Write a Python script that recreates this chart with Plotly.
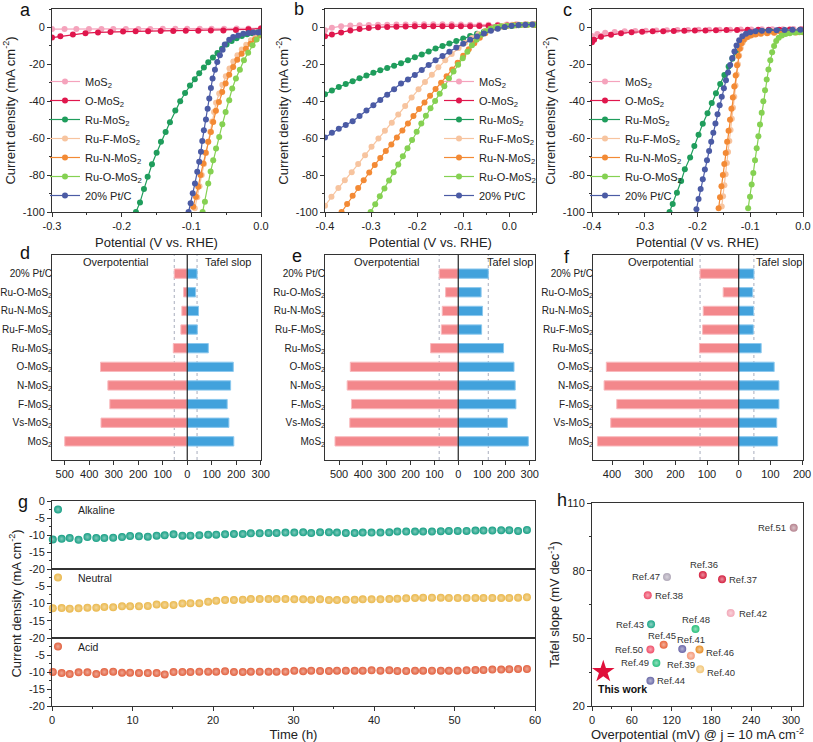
import plotly.graph_objects as go

FONT = "Liberation Sans, Arial, Helvetica, sans-serif"
W, H = 813, 742

# ---------------- Panel a (LSV) ----------------
A_MOS2_V = [-0.300,-0.282,-0.265,-0.247,-0.229,-0.212,-0.194,-0.176,-0.159,-0.141,-0.123,-0.106,-0.088,-0.071,-0.053,-0.035,-0.018,0.000]
A_MOS2_J = [-0.9,-0.9,-0.8,-0.8,-0.8,-0.8,-0.8,-0.8,-0.8,-0.7,-0.7,-0.7,-0.7,-0.7,-0.7,-0.6,-0.5,-0.4]
A_OMOS2_V = [-0.300,-0.288,-0.270,-0.252,-0.234,-0.216,-0.198,-0.180,-0.162,-0.144,-0.126,-0.108,-0.090,-0.072,-0.054,-0.036,-0.018,0.000]
A_OMOS2_J = [-5.5,-4.8,-3.8,-3.1,-2.7,-2.4,-2.2,-2.1,-2.0,-1.9,-1.9,-1.8,-1.8,-1.7,-1.6,-1.4,-1.0,-0.6]
A_RU_V = [-0.1795,-0.1737,-0.1680,-0.1627,-0.1565,-0.1498,-0.1436,-0.1369,-0.1307,-0.1230,-0.1160,-0.1090,-0.1020,-0.0950,-0.0887,-0.0820,-0.0757,-0.0690,-0.0625,-0.0560,-0.0494,-0.0422,-0.0350,-0.0275,-0.0200,-0.0125,-0.0050,0.0000]
A_RU_J = [-100.0,-94.8,-87.6,-80.9,-74.1,-67.9,-62.0,-56.6,-51.4,-45.0,-40.0,-35.5,-31.5,-28.0,-24.8,-21.7,-18.9,-16.3,-13.9,-11.6,-9.3,-7.4,-5.8,-4.6,-3.7,-3.1,-2.7,-2.6]
A_RUF_V = [-0.0950,-0.0915,-0.0882,-0.0850,-0.0818,-0.0788,-0.0758,-0.0730,-0.0702,-0.0674,-0.0645,-0.0600,-0.0555,-0.0505,-0.0452,-0.0397,-0.0338,-0.0276,-0.0212,-0.0145,-0.0075,0.0000]
A_RUF_J = [-98.0,-92.0,-86.0,-80.0,-74.0,-68.0,-62.0,-56.5,-51.0,-45.8,-40.8,-35.8,-31.0,-26.4,-22.2,-18.4,-15.0,-12.0,-9.4,-7.0,-5.0,-3.2]
A_RUN_V = [-0.0973,-0.0934,-0.0901,-0.0868,-0.0829,-0.0795,-0.0757,-0.0719,-0.0686,-0.0647,-0.0604,-0.0557,-0.0508,-0.0456,-0.0399,-0.0341,-0.0278,-0.0217,-0.0150,-0.0088,-0.0016]
A_RUN_J = [-97.1,-91.7,-86.3,-80.0,-73.7,-67.9,-62.0,-56.6,-51.2,-45.2,-40.4,-35.0,-30.4,-25.6,-21.4,-17.5,-14.2,-11.5,-8.8,-6.5,-4.3]
A_RUO_V = [-0.0838,-0.0805,-0.0757,-0.0723,-0.0686,-0.0645,-0.0600,-0.0555,-0.0508,-0.0456,-0.0413,-0.0360,-0.0303,-0.0245,-0.0184,-0.0121,-0.0063,-0.0006]
A_RUO_J = [-100.0,-94.4,-84.5,-78.0,-71.9,-65.6,-59.3,-52.5,-45.8,-39.5,-33.1,-27.7,-22.9,-17.8,-13.7,-9.7,-6.5,-3.8]
A_PT_V = [-0.1040,-0.1010,-0.0980,-0.0948,-0.0915,-0.0887,-0.0862,-0.0843,-0.0820,-0.0790,-0.0766,-0.0743,-0.0719,-0.0695,-0.0661,-0.0628,-0.0590,-0.0551,-0.0520,-0.0456,-0.0399,-0.0327,-0.0255,-0.0180,-0.0110,-0.0040,0.0000]
A_PT_J = [-100.0,-95.3,-89.9,-84.5,-78.2,-72.8,-67.4,-61.5,-55.7,-49.9,-44.0,-38.5,-32.8,-27.7,-22.9,-18.7,-15.1,-12.1,-9.2,-6.7,-5.2,-4.3,-3.4,-3.0,-2.8,-2.7,-2.6]

# ---------------- Panel b (LSV) ----------------
B_MOS2_V = [-0.400,-0.385,-0.365,-0.345,-0.325,-0.305,-0.285,-0.265,-0.245,-0.225,-0.205,-0.185,-0.165,-0.145,-0.125,-0.105,-0.085,-0.065,-0.045,-0.025,-0.005,0.015,0.035,0.055]
B_MOS2_J = [-1.5,-0.2,0.7,1.0,1.2,1.3,1.4,1.5,1.6,1.6,1.7,1.7,1.7,1.7,1.7,1.6,1.5,1.4,1.4,1.5,1.6,1.7,1.8,1.9]
B_OMOS2_V = [-0.400,-0.385,-0.365,-0.345,-0.325,-0.305,-0.285,-0.265,-0.245,-0.225,-0.205,-0.185,-0.165,-0.145,-0.125,-0.105,-0.085,-0.065,-0.045,-0.025,-0.005,0.015,0.035,0.055]
B_OMOS2_J = [-4.8,-3.8,-2.7,-1.6,-0.9,-0.3,0.1,0.3,0.4,0.5,0.6,0.6,0.7,0.7,0.7,0.7,0.7,0.8,0.9,1.0,1.1,1.2,1.3,1.3]
B_RU_V = [-0.400,-0.385,-0.370,-0.355,-0.340,-0.325,-0.310,-0.295,-0.280,-0.265,-0.250,-0.235,-0.220,-0.205,-0.190,-0.175,-0.160,-0.145,-0.130,-0.115,-0.100,-0.085,-0.070,-0.055,-0.040,-0.025,-0.010,0.005,0.020,0.035,0.050]
B_RU_J = [-36.2,-34.1,-32.3,-30.7,-29.2,-27.5,-26.0,-24.5,-23.2,-22.0,-20.8,-19.4,-17.8,-16.1,-14.6,-13.0,-11.4,-10.1,-8.7,-7.3,-6.0,-4.6,-3.4,-2.3,-1.3,-0.4,0.3,0.8,1.2,1.4,1.6]
B_RUF_V = [-0.400,-0.386,-0.371,-0.357,-0.342,-0.328,-0.313,-0.299,-0.284,-0.270,-0.255,-0.241,-0.226,-0.212,-0.197,-0.183,-0.168,-0.154,-0.139,-0.125,-0.110,-0.096,-0.081,-0.067,-0.052,-0.038,-0.023,-0.009,0.006,0.020,0.035,0.049]
B_RUF_J = [-96.6,-91.8,-87.0,-82.8,-78.4,-74.0,-69.2,-64.6,-60.2,-56.0,-51.6,-47.2,-42.6,-38.0,-33.5,-29.5,-25.6,-21.6,-17.8,-14.4,-11.2,-8.3,-5.7,-3.6,-1.8,-0.5,0.4,1.0,1.4,1.6,1.7,1.8]
B_RUN_V = [-0.364,-0.352,-0.340,-0.328,-0.316,-0.304,-0.292,-0.280,-0.268,-0.256,-0.244,-0.232,-0.220,-0.208,-0.196,-0.184,-0.172,-0.160,-0.148,-0.136,-0.124,-0.112,-0.100,-0.088,-0.076,-0.064,-0.052,-0.040,-0.028,-0.016,-0.004,0.010,0.025,0.040,0.055]
B_RUN_J = [-100.0,-95.6,-91.2,-87.0,-82.8,-78.6,-74.5,-70.7,-67.0,-63.4,-59.6,-55.8,-52.0,-48.0,-44.2,-40.6,-37.0,-33.4,-29.9,-26.4,-22.8,-19.1,-15.4,-11.8,-8.5,-5.6,-3.2,-1.4,-0.2,0.5,0.9,1.2,1.3,1.4,1.4]
B_RUO_V = [-0.301,-0.291,-0.281,-0.271,-0.261,-0.251,-0.241,-0.231,-0.221,-0.211,-0.201,-0.191,-0.181,-0.171,-0.161,-0.151,-0.141,-0.131,-0.121,-0.111,-0.101,-0.091,-0.081,-0.071,-0.061,-0.051,-0.041,-0.030,-0.018,-0.005,0.010,0.025,0.040,0.055]
B_RUO_J = [-100.0,-95.8,-91.5,-87.2,-82.9,-78.5,-74.2,-69.8,-65.4,-61.0,-56.5,-52.0,-47.8,-43.8,-39.8,-35.9,-31.8,-27.6,-23.8,-20.2,-16.7,-13.2,-9.7,-6.6,-4.0,-2.1,-0.7,0.2,0.6,0.9,1.1,1.3,1.4,1.4]
B_PT_V = [-0.400,-0.385,-0.370,-0.355,-0.340,-0.325,-0.310,-0.295,-0.280,-0.265,-0.250,-0.235,-0.220,-0.205,-0.190,-0.175,-0.160,-0.145,-0.130,-0.115,-0.100,-0.085,-0.070,-0.055,-0.040,-0.025,-0.010,0.005,0.020,0.035,0.050]
B_PT_J = [-59.6,-57.0,-54.9,-52.9,-50.8,-48.0,-45.0,-42.1,-39.3,-36.4,-33.5,-30.4,-28.2,-25.8,-23.1,-20.3,-17.8,-15.5,-13.1,-10.9,-8.8,-6.7,-4.9,-3.3,-1.8,-0.7,0.2,0.9,1.3,1.5,1.6]

# ---------------- Panel c (LSV) ----------------
C_MOS2_V = [-0.400,-0.390,-0.375,-0.357,-0.338,-0.318,-0.298,-0.278,-0.258,-0.238,-0.218,-0.198,-0.178,-0.158,-0.138,-0.118,-0.098,-0.078,-0.058,-0.038,-0.018,0.000]
C_MOS2_J = [-4.6,-3.6,-2.9,-2.4,-2.1,-1.9,-1.8,-1.6,-1.5,-1.4,-1.4,-1.3,-1.3,-1.2,-1.2,-1.1,-1.1,-1.0,-1.0,-1.0,-0.9,-0.9]
C_OMOS2_V = [-0.400,-0.396,-0.383,-0.364,-0.345,-0.325,-0.305,-0.285,-0.265,-0.245,-0.225,-0.205,-0.185,-0.165,-0.145,-0.125,-0.105,-0.085,-0.065,-0.045,-0.025,-0.005]
C_OMOS2_J = [-8.0,-6.6,-5.0,-4.0,-3.2,-2.6,-2.3,-2.1,-2.0,-1.9,-1.8,-1.7,-1.6,-1.5,-1.4,-1.4,-1.3,-1.3,-1.2,-1.2,-1.1,-1.1]
C_RU_V = [-0.2530,-0.2470,-0.2390,-0.2310,-0.2240,-0.2140,-0.2060,-0.1980,-0.1900,-0.1810,-0.1730,-0.1650,-0.1570,-0.1490,-0.1410,-0.1340,-0.1270,-0.1200,-0.1130,-0.1050,-0.0960,-0.0860,-0.0750,-0.0620,-0.0480,-0.0340,-0.0200,-0.0060]
C_RU_J = [-100.0,-95.7,-89.6,-83.2,-76.9,-70.5,-64.3,-58.2,-52.2,-46.5,-41.0,-35.7,-30.6,-25.8,-21.2,-17.0,-13.2,-9.8,-7.0,-5.0,-3.6,-2.8,-2.3,-2.0,-1.8,-1.7,-1.6,-1.5]
C_RUF_V = [-0.1540,-0.1515,-0.1490,-0.1467,-0.1443,-0.1420,-0.1397,-0.1373,-0.1350,-0.1327,-0.1303,-0.1280,-0.1257,-0.1234,-0.1210,-0.1180,-0.1145,-0.1100,-0.1040,-0.0970,-0.0880,-0.0780,-0.0660,-0.0530,-0.0390,-0.0250,-0.0110,0.0000]
C_RUF_J = [-97.0,-91.5,-85.5,-79.5,-73.5,-67.5,-61.5,-55.5,-49.5,-43.5,-37.5,-31.5,-25.5,-20.0,-15.2,-11.2,-8.3,-6.3,-5.0,-4.2,-3.6,-3.2,-2.9,-2.7,-2.6,-2.5,-2.5,-2.4]
C_RUN_V = [-0.1600,-0.1573,-0.1546,-0.1519,-0.1492,-0.1465,-0.1438,-0.1411,-0.1384,-0.1357,-0.1330,-0.1303,-0.1276,-0.1250,-0.1225,-0.1198,-0.1165,-0.1120,-0.1060,-0.0990,-0.0900,-0.0800,-0.0680,-0.0550,-0.0410,-0.0270,-0.0130,0.0000]
C_RUN_J = [-98.0,-92.0,-86.0,-80.0,-74.0,-68.0,-62.0,-56.0,-50.0,-44.0,-38.0,-32.0,-26.0,-20.5,-15.5,-11.5,-8.5,-6.5,-5.2,-4.4,-3.8,-3.4,-3.1,-2.9,-2.8,-2.7,-2.7,-2.6]
C_RUO_V = [-0.1040,-0.1005,-0.0973,-0.0942,-0.0910,-0.0878,-0.0846,-0.0815,-0.0783,-0.0752,-0.0720,-0.0688,-0.0655,-0.0620,-0.0585,-0.0548,-0.0508,-0.0460,-0.0400,-0.0330,-0.0250,-0.0160,-0.0070,0.0000]
C_RUO_J = [-98.0,-91.7,-85.1,-78.8,-72.0,-65.5,-59.0,-52.6,-46.2,-40.0,-34.0,-28.2,-22.8,-17.8,-13.5,-10.0,-7.4,-5.6,-4.4,-3.6,-3.1,-2.8,-2.6,-2.5]
C_PT_V = [-0.202,-0.198,-0.194,-0.190,-0.186,-0.182,-0.178,-0.174,-0.170,-0.166,-0.162,-0.158,-0.154,-0.150,-0.146,-0.142,-0.138,-0.134,-0.130,-0.126,-0.121,-0.115,-0.108,-0.100,-0.090,-0.078,-0.065,-0.050,-0.035,-0.020,-0.005]
C_PT_J = [-98.5,-93.0,-87.5,-82.2,-77.0,-72.0,-67.0,-62.0,-57.0,-52.0,-47.0,-42.2,-37.5,-33.0,-28.6,-24.4,-20.3,-16.5,-13.0,-9.8,-7.0,-4.8,-3.4,-2.6,-2.1,-1.8,-1.6,-1.5,-1.4,-1.3,-1.3]

SERIES_NAMES = ["MoS<sub>2</sub>", "O-MoS<sub>2</sub>", "Ru-MoS<sub>2</sub>", "Ru-F-MoS<sub>2</sub>",
                "Ru-N-MoS<sub>2</sub>", "Ru-O-MoS<sub>2</sub>", "20% Pt/C"]
SERIES_COLORS = ["#f5a3bc", "#e0174d", "#1f9d5c", "#f7c49f", "#f38a35", "#85d152", "#4b5ba5"]

# ---------------- Panels d, e, f (bars) ----------------
CATS = ["MoS<sub>2</sub>", "Vs-MoS<sub>2</sub>", "F-MoS<sub>2</sub>", "N-MoS<sub>2</sub>", "O-MoS<sub>2</sub>",
        "Ru-MoS<sub>2</sub>", "Ru-F-MoS<sub>2</sub>", "Ru-N-MoS<sub>2</sub>", "Ru-O-MoS<sub>2</sub>", "20% Pt/C"]
D_OVER = [500, 352, 316, 324, 354, 57, 26, 22, 15, 53]
D_TAFEL = [190, 170, 163, 177, 188, 86, 41, 46, 34, 40]
E_OVER = [517, 455, 448, 466, 453, 116, 71, 67, 53, 80]
E_TAFEL = [294, 206, 242, 239, 234, 190, 98, 102, 96, 126]
F_OVER = [446, 404, 385, 425, 418, 124, 114, 112, 49, 122]
F_TAFEL = [123, 120, 127, 127, 112, 71, 46, 47, 44, 48]

# ---------------- Panel g (stability) ----------------
G_TIME = [0.1,1.2,2.2,3.3,4.4,5.5,6.5,7.6,8.7,9.7,10.8,11.9,13.0,14.0,15.1,16.2,17.2,18.3,19.4,20.4,
          21.5,22.6,23.7,24.7,25.8,26.9,27.9,29.0,30.1,31.2,32.2,33.3,34.4,35.4,36.5,37.6,38.6,39.7,40.8,41.9,
          42.9,44.0,45.1,46.1,47.2,48.3,49.3,50.4,51.5,52.6,53.6,54.7,55.8,56.8,57.9,59.0]
G_ALKALINE = [-11.3,-11.1,-10.9,-11.4,-10.6,-10.9,-10.9,-10.8,-10.6,-10.3,-10.4,-10.5,-10.2,-10.1,-9.8,-10.2,-10.2,-10.1,-9.9,-9.9,
              -9.8,-9.7,-9.7,-9.5,-9.5,-9.4,-9.4,-9.3,-9.3,-9.2,-9.4,-9.2,-9.2,-9.3,-9.4,-9.4,-9.3,-9.3,-9.3,-9.2,
              -9.0,-9.0,-9.0,-9.0,-9.0,-8.9,-8.8,-8.8,-8.8,-8.7,-8.7,-8.7,-8.6,-8.6,-8.8,-8.5]
G_NEUTRAL = [-11.4,-11.3,-11.5,-11.4,-11.2,-11.2,-11.0,-11.1,-10.8,-10.8,-10.8,-10.7,-10.3,-10.4,-10.4,-10.0,-9.9,-9.9,-9.5,-9.2,
             -9.0,-9.0,-8.9,-8.7,-8.7,-8.7,-8.7,-8.7,-8.8,-8.8,-8.9,-8.8,-9.0,-9.0,-8.9,-8.9,-8.8,-8.8,-8.8,-8.7,
             -8.6,-8.5,-8.4,-8.3,-8.3,-8.3,-8.4,-8.4,-8.4,-8.4,-8.4,-8.4,-8.4,-8.4,-8.3,-8.2]
G_ACID = [-10.0,-10.3,-10.6,-10.1,-10.1,-10.6,-10.0,-9.9,-10.2,-10.2,-10.3,-10.3,-10.3,-10.7,-10.0,-10.0,-10.0,-9.9,-9.9,-9.9,
          -9.8,-10.0,-10.0,-9.9,-9.9,-9.9,-9.9,-9.9,-9.6,-9.8,-9.6,-9.7,-9.7,-9.6,-9.6,-9.6,-9.6,-9.5,-9.6,-9.5,
          -9.7,-9.7,-9.6,-9.6,-9.6,-9.6,-9.6,-9.6,-9.5,-9.4,-9.4,-9.3,-9.3,-9.2,-9.1,-9.1]

# ---------------- Panel h (comparison) ----------------
H_REFS = ["Ref.51", "Ref.36", "Ref.37", "Ref.47", "Ref.38", "Ref.42", "Ref.43", "Ref.48",
          "Ref.45", "Ref.50", "Ref.41", "Ref.46", "Ref.39", "Ref.49", "Ref.40", "Ref.44"]
H_OVERPOT = [304, 167, 196, 113, 84, 209, 89, 156, 108, 88, 136, 162, 149, 97, 163, 88]
H_TAFEL = [99.0, 78.1, 76.2, 77.2, 69.1, 61.2, 56.2, 54.1, 47.2, 45.1, 45.3, 45.1, 42.3, 39.1, 36.3, 31.2]
H_COLORS = ["#b5838f", "#d6203f", "#d42040", "#b0a8b8", "#ee4d6a", "#f2a8b8", "#1fa88a", "#28c07a",
            "#e8643a", "#f0506a", "#6a66a8", "#e8902a", "#f59a7a", "#2ac080", "#f2c77a", "#6a6aa8"]
# label placement (anchor, x shift px, y shift px) per point
H_LABEL_STYLE = [("right", -6, 0), ("center", 1, 10), ("left", 5, 0), ("right", -5, 0),
                 ("left", 5, 0), ("left", 6, 0), ("right", -5, 0), ("center", 0, 10),
                 ("center", -2, 9), ("right", -5, 0), ("center", 9, 9), ("left", 5, -3),
                 ("center", -10, -9), ("right", -5, 0), ("left", 5, -3), ("left", 5, 0)]
THIS_WORK_OVERPOT = [17]
THIS_WORK_TAFEL = [35.2]


def xd(a, b):
    return [a / W, b / W]


def yd(top, bottom):
    return [1 - bottom / H, 1 - top / H]


def px(x):
    return x / W


def py(y):
    return 1 - y / H


def lighten(hexc, f):
    hexc = hexc.lstrip("#")
    r, g, b = int(hexc[0:2], 16), int(hexc[2:4], 16), int(hexc[4:6], 16)
    r = int(r + (255 - r) * f)
    g = int(g + (255 - g) * f)
    b = int(b + (255 - b) * f)
    return f"rgb({r},{g},{b})"


def axis(**kw):
    d = dict(showline=True, linecolor="#333333", linewidth=1, mirror=True, automargin=False,
             ticks="outside", ticklen=4, tickwidth=1, tickcolor="#333333",
             tickfont=dict(family=FONT, size=11, color="#222222"),
             showgrid=False, zeroline=False, fixedrange=True)
    d.update(kw)
    return d


TITLE_FONT = dict(family=FONT, size=13, color="#222222")

fig = go.Figure()
layout = {}

# ---- LSV panels ----
panels = [
    ("", "legend", [(A_MOS2_V, A_MOS2_J), (A_OMOS2_V, A_OMOS2_J), (A_RU_V, A_RU_J), (A_RUF_V, A_RUF_J),
                    (A_RUN_V, A_RUN_J), (A_RUO_V, A_RUO_J), (A_PT_V, A_PT_J)]),
    ("2", "legend2", [(B_MOS2_V, B_MOS2_J), (B_OMOS2_V, B_OMOS2_J), (B_RU_V, B_RU_J), (B_RUF_V, B_RUF_J),
                      (B_RUN_V, B_RUN_J), (B_RUO_V, B_RUO_J), (B_PT_V, B_PT_J)]),
    ("3", "legend3", [(C_MOS2_V, C_MOS2_J), (C_OMOS2_V, C_OMOS2_J), (C_RU_V, C_RU_J), (C_RUF_V, C_RUF_J),
                      (C_RUN_V, C_RUN_J), (C_RUO_V, C_RUO_J), (C_PT_V, C_PT_J)]),
]
for s, lg, data in panels:
    for (v, j), name, col in zip(data, SERIES_NAMES, SERIES_COLORS):
        fig.add_trace(go.Scatter(
            x=v, y=j, mode="lines+markers", name=name, legend=lg,
            line=dict(color=col, width=1.2), marker=dict(size=6, color=col),
            xaxis="x" + s, yaxis="y" + s))

lsv_xdom = [xd(52, 261), xd(325, 536), xd(592, 803)]
lsv_xrange = [[-0.3, 0.0], [-0.4, 0.058], [-0.4, 0.0]]
lsv_ticks = [[-0.3, -0.2, -0.1, 0.0], [-0.4, -0.3, -0.2, -0.1, 0.0], [-0.4, -0.3, -0.2, -0.1, 0.0]]
for k, s in enumerate(["", "2", "3"]):
    tv = lsv_ticks[k]
    layout["xaxis" + s] = axis(domain=lsv_xdom[k], anchor="y" + s, range=lsv_xrange[k],
                               tickmode="array", tickvals=tv, ticktext=[f"{t:.1f}".replace("-0.0", "0.0") for t in tv],
                               minor=dict(tickmode="linear", tick0=0, dtick=0.05, ticks="outside", ticklen=2, tickcolor="#333"),
                               title=dict(text="Potential (V vs. RHE)", font=TITLE_FONT, standoff=6))
    layout["yaxis" + s] = axis(domain=yd(9, 212), anchor="x" + s, range=[-100, 10],
                               tickmode="array", tickvals=[0, -20, -40, -60, -80, -100],
                               ticktext=["0", "-20", "-40", "-60", "-80", "-100"],
                               minor=dict(tickmode="linear", tick0=0, dtick=10, ticks="outside", ticklen=2, tickcolor="#333"),
                               title=dict(text="Current density (mA cm<sup>-2</sup>)", font=TITLE_FONT, standoff=4))

legend_common = dict(bgcolor="rgba(0,0,0,0)", font=dict(family=FONT, size=11, color="#222"),
                     itemwidth=30, tracegroupgap=0, yanchor="bottom", y=py(210))
layout["legend"] = dict(legend_common, x=px(45), xanchor="left")
layout["legend2"] = dict(legend_common, x=px(541), xanchor="right")
layout["legend3"] = dict(legend_common, x=px(585), xanchor="left")

# ---- Bar panels ----
bar_sets = [("4", D_OVER, D_TAFEL, [-552, 301], list(range(-500, 301, 100)), xd(52, 261)),
            ("5", E_OVER, E_TAFEL, [-559, 322], list(range(-500, 301, 100)), xd(325, 535)),
            ("6", F_OVER, F_TAFEL, [-460, 203], list(range(-400, 201, 100)), xd(593, 803))]
shapes = []
annotations = []
hdr_pos = {"4": (0.306, 0.84), "5": (0.294, 0.88), "6": (0.32, 0.886)}
for s, over, tafel, rng, tv, dom in bar_sets:
    fig.add_trace(go.Bar(y=CATS, x=[-v for v in over], orientation="h", width=0.5, showlegend=False,
                         marker=dict(color="#f3878b", line=dict(color="#f9b9bd", width=1)),
                         xaxis="x" + s, yaxis="y" + s))
    fig.add_trace(go.Bar(y=CATS, x=tafel, orientation="h", width=0.5, showlegend=False,
                         marker=dict(color="#42a2dc", line=dict(color="#8cc8ee", width=1)),
                         xaxis="x" + s, yaxis="y" + s))
    layout["xaxis" + s] = axis(domain=dom, anchor="y" + s, range=rng, tickmode="array",
                               tickvals=tv, ticktext=[str(abs(t)) for t in tv])
    layout["yaxis" + s] = axis(domain=yd(255, 460), anchor="x" + s, range=[-1, 10], type="category",
                               categoryorder="array", categoryarray=CATS, ticks="", ticklabelstandoff=-3,
                               tickfont=dict(family=FONT, size=10, color="#222"))
    for xv in (-over[-1], tafel[-1]):
        shapes.append(dict(type="line", xref="x" + s, yref="y" + s + " domain", x0=xv, x1=xv, y0=0, y1=1,
                           line=dict(color="#a8adbd", width=1, dash="dot"), layer="below"))
    shapes.append(dict(type="line", xref="x" + s, yref="y" + s + " domain", x0=0, x1=0, y0=0, y1=1,
                       line=dict(color="#222", width=1.2), layer="above"))
    hx1, hx2 = hdr_pos[s]
    annotations.append(dict(text="Overpotential", xref="x" + s + " domain", yref="y" + s + " domain",
                            x=hx1, y=0.965, xanchor="center", yanchor="middle", showarrow=False,
                            font=dict(family=FONT, size=11, color="#222")))
    annotations.append(dict(text="Tafel slop", xref="x" + s + " domain", yref="y" + s + " domain",
                            x=hx2, y=0.965, xanchor="center", yanchor="middle", showarrow=False,
                            font=dict(family=FONT, size=11, color="#222")))

# ---- Stability panel g ----
g_sets = [("7", G_ALKALINE, "Alkaline", "#18a085", "legend4", (501, 569)),
          ("8", G_NEUTRAL, "Neutral", "#eab84c", "legend5", (569, 638)),
          ("9", G_ACID, "Acid", "#e2613f", "legend6", (638, 706))]
for s, vals, name, col, lg, (top, bot) in g_sets:
    fig.add_trace(go.Scatter(x=G_TIME, y=vals, mode="markers", name=name, legend=lg,
                             marker=dict(size=8, color=col, gradient=dict(type="radial", color=lighten(col, 0.45)),
                                         line=dict(width=0)),
                             xaxis="x" + s, yaxis="y" + s, cliponaxis=False))
    is_bottom = s == "9"
    xa = axis(domain=xd(52, 535), anchor="y" + s, range=[0, 60], showticklabels=is_bottom,
              tickmode="linear", tick0=0, dtick=10, ticks="outside" if is_bottom else "")
    if is_bottom:
        xa["minor"] = dict(tickmode="linear", tick0=0, dtick=5, ticks="outside", ticklen=2, tickcolor="#333")
        xa["title"] = dict(text="Time (h)", font=TITLE_FONT, standoff=6)
    else:
        xa["matches"] = "x9"
    layout["xaxis" + s] = xa
    tvals = [0, -5, -10, -15, -20] if s == "7" else [-5, -10, -15, -20]
    ya = axis(domain=yd(top, bot), anchor="x" + s, range=[-20, 0], tickmode="array",
              tickvals=tvals, ticktext=[str(t) for t in tvals],
              minor=dict(tickmode="linear", tick0=0, dtick=2.5, ticks="outside", ticklen=2, tickcolor="#333"))
    if s == "8":
        ya["title"] = dict(text="Current density (mA cm<sup>-2</sup>)", font=TITLE_FONT, standoff=4)
    layout["yaxis" + s] = ya
    layout[lg] = dict(bgcolor="rgba(0,0,0,0)", font=dict(family=FONT, size=10.5, color="#222"),
                      itemwidth=30, x=px(38), xanchor="left", y=py(top - 6), yanchor="top")

# ---- Comparison panel h ----
fig.add_trace(go.Scatter(
    x=H_OVERPOT, y=H_TAFEL, mode="markers", showlegend=False,
    marker=dict(size=8, color=H_COLORS, gradient=dict(type="radial", color=[lighten(c, 0.5) for c in H_COLORS]),
                line=dict(width=0)),
    xaxis="x10", yaxis="y10", cliponaxis=False))
for name, xv, yv, (anc, dx, dy) in zip(H_REFS, H_OVERPOT, H_TAFEL, H_LABEL_STYLE):
    annotations.append(dict(text=name, xref="x10", yref="y10", x=xv, y=yv, xanchor=anc, yanchor="middle",
                            xshift=dx, yshift=dy, showarrow=False,
                            font=dict(family=FONT, size=9.5, color="#333")))
fig.add_trace(go.Scatter(
    x=THIS_WORK_OVERPOT, y=THIS_WORK_TAFEL, mode="markers", showlegend=False,
    marker=dict(size=17, color="#e0103a", symbol="star", line=dict(width=0)),
    xaxis="x10", yaxis="y10", cliponaxis=False))
annotations.append(dict(text="<b>This work</b>", xref="x10", yref="y10", x=THIS_WORK_OVERPOT[0],
                        y=THIS_WORK_TAFEL[0], xanchor="left", yanchor="middle", xshift=-7, yshift=-17,
                        showarrow=False, font=dict(family=FONT, size=10.5, color="#111")))
layout["xaxis10"] = axis(domain=xd(592, 803), anchor="y10", range=[0, 318], tickmode="array",
                         tickvals=[0, 60, 120, 180, 240, 300],
                         minor=dict(tickmode="linear", tick0=0, dtick=30, ticks="outside", ticklen=2, tickcolor="#333"),
                         title=dict(text="Overpotential (mV) @ j = 10 mA cm<sup>-2</sup>", font=TITLE_FONT, standoff=6))
layout["yaxis10"] = axis(domain=yd(503, 706), anchor="x10", range=[20, 110], tickmode="array",
                         tickvals=[20, 50, 80, 110],
                         minor=dict(tickmode="linear", tick0=20, dtick=15, ticks="outside", ticklen=2, tickcolor="#333"),
                         title=dict(text="Tafel slope (mV dec<sup>-1</sup>)", font=TITLE_FONT, standoff=4))

# ---- Panel letters ----
for letter, lx, ly in [("a", 26, 10), ("b", 299, 9), ("c", 567, 10), ("d", 25, 253), ("e", 297, 256),
                        ("f", 567, 257), ("g", 23, 502), ("h", 562, 500)]:
    annotations.append(dict(text=letter, xref="paper", yref="paper", x=px(lx), y=py(ly),
                            xanchor="center", yanchor="middle", showarrow=False,
                            font=dict(family=FONT, size=18, color="#111")))

fig.update_layout(
    template="none",
    width=W, height=H, margin=dict(l=0, r=0, t=0, b=0, pad=0), autosize=False,
    paper_bgcolor="white", plot_bgcolor="white",
    font=dict(family=FONT, size=11, color="#222"),
    barmode="overlay", shapes=shapes, annotations=annotations, **layout)

# the page's default body margin would shift the 813x742 figure out of the window
fig.write_html("out.html", config={"displayModeBar": False},
               post_script="document.body.style.margin='0px';")
